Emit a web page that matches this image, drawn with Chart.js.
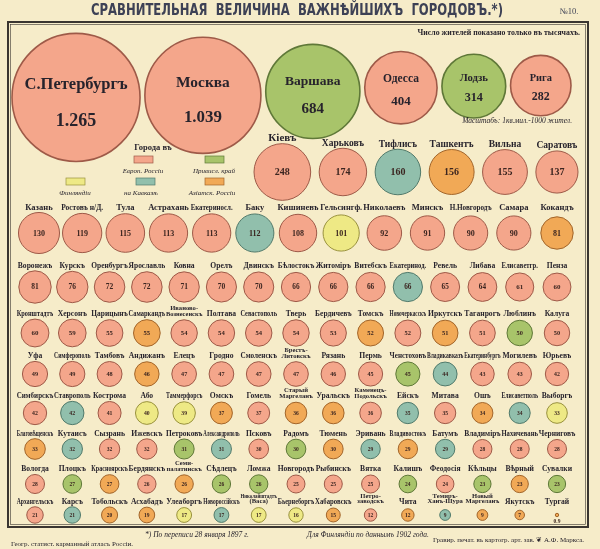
<!DOCTYPE html>
<html lang="ru">
<head>
<meta charset="UTF-8">
<title>Сравнительная величина важнѣйшихъ городовъ</title>
<script src="https://cdn.jsdelivr.net/npm/chart.js"></script>
<style>
  html, body { margin: 0; padding: 0; background: #f6ecc9; }
  canvas { display: block; }
</style>
</head>
<body>
<canvas id="cities" width="600" height="549"></canvas>
<script>
// число жителей въ тысячахъ (перепись 1897 г., для Финляндіи 1902 г.)
// E - Европ. Россія, P - Привисл. край, F - Финляндія, K - Кавказъ, A - Азіатск. Россія
const row1Names = ["С.Петербургъ", "Москва", "Варшава", "Одесса", "Лодзь", "Рига"];
const row1Values = [1265, 1039, 684, 404, 314, 282];
const row1Regions = ["E", "E", "P", "E", "P", "E"];

const row2Names = ["Кіевъ", "Харьковъ", "Тифлисъ", "Ташкентъ", "Вильна", "Саратовъ"];
const row2Values = [248, 174, 160, 156, 155, 137];
const row2Regions = ["E", "E", "K", "A", "E", "E"];

const row3Names = ["Казань", "Ростовъ н/Д.", "Тула", "Астрахань", "Екатериносл.", "Баку", "Кишиневъ",
  "Гельсингф.", "Николаевъ", "Минскъ", "Н.Новгородъ", "Самара", "Кокандъ"];
const row3Values = [130, 119, 115, 113, 113, 112, 108, 101, 92, 91, 90, 90, 81];
const row3Regions = ["E", "E", "E", "E", "E", "K", "E", "F", "E", "E", "E", "E", "A"];

const row4Names = ["Воронежъ", "Курскъ", "Оренбургъ", "Ярославль", "Ковна", "Орелъ", "Двинскъ", "Бѣлостокъ",
  "Житоміръ", "Витебскъ", "Екатеринод.", "Ревель", "Либава", "Елисаветгр.", "Пенза"];
const row4Values = [81, 76, 72, 72, 71, 70, 70, 66, 66, 66, 66, 65, 64, 61, 60];
const row4Regions = ["E", "E", "E", "E", "E", "E", "E", "E", "E", "E", "K", "E", "E", "E", "E"];

const row5Names = ["Кронштадтъ", "Херсонъ", "Царицынъ", "Самаркандъ", "Иваново-\nВознесенскъ", "Полтава",
  "Севастополь", "Тверь", "Бердичевъ", "Томскъ", "Новочеркасскъ", "Иркутскъ", "Таганрогъ", "Люблинъ", "Калуга"];
const row5Values = [60, 59, 55, 55, 54, 54, 54, 54, 53, 52, 52, 51, 51, 50, 50];
const row5Regions = ["E", "E", "E", "A", "E", "E", "E", "E", "E", "A", "E", "A", "E", "P", "E"];

const row6Names = ["Уфа", "Симферополь", "Тамбовъ", "Андижанъ", "Елецъ", "Гродно", "Смоленскъ", "Брестъ-\nЛитовскъ",
  "Рязань", "Пермь", "Ченстоховъ", "Владикавказъ", "Екатеринбургъ", "Могилевъ", "Юрьевъ"];
const row6Values = [49, 49, 48, 46, 47, 47, 47, 47, 46, 45, 45, 44, 43, 43, 42];
const row6Regions = ["E", "E", "E", "A", "E", "E", "E", "E", "E", "E", "P", "K", "E", "E", "E"];

const row7Names = ["Симбирскъ", "Ставрополь", "Кострома", "Або", "Таммерфорсъ", "Омскъ", "Гомель", "Старый\nМаргеланъ",
  "Уральскъ", "Каменецъ-\nПодольскъ", "Ейскъ", "Митава", "Ошъ", "Елисаветполь", "Выборгъ"];
const row7Values = [42, 42, 41, 40, 39, 37, 37, 36, 36, 36, 35, 35, 34, 34, 33];
const row7Regions = ["E", "K", "E", "F", "F", "A", "E", "A", "A", "E", "K", "E", "A", "K", "F"];

const row8Names = ["Благовѣщенскъ", "Кутаисъ", "Сызрань", "Ижевскъ", "Петроковъ", "Александрополь", "Псковъ",
  "Радомъ", "Тюмень", "Эривань", "Владивостокъ", "Батумъ", "Владиміръ", "Нахичевань", "Черниговъ"];
const row8Values = [33, 32, 32, 32, 31, 31, 30, 30, 30, 29, 29, 29, 28, 28, 28];
const row8Regions = ["A", "K", "E", "E", "P", "K", "E", "P", "A", "K", "A", "K", "E", "E", "E"];

const row9Names = ["Вологда", "Плоцкъ", "Красноярскъ", "Бердянскъ", "Семи-\nпалатинскъ", "Сѣдлецъ", "Ломжа",
  "Новгородъ", "Рыбинскъ", "Вятка", "Калишъ", "Феодосія", "Кѣльцы", "Вѣрный", "Сувалки"];
const row9Values = [28, 27, 27, 26, 26, 26, 26, 25, 25, 25, 24, 24, 23, 23, 23];
const row9Regions = ["E", "P", "A", "E", "A", "P", "P", "E", "E", "E", "P", "E", "P", "A", "P"];

const row10Names = ["Архангельскъ", "Карсъ", "Тобольскъ", "Асхабадъ", "Улеаборгъ", "Новороссійскъ",
  "Николайштадтъ\n(Васа)", "Бьернеборгъ", "Хабаровскъ", "Петро-\nзаводскъ", "Чита", "Темиръ-\nХанъ-Шура",
  "Новый\nМаргеланъ", "Якутскъ", "Тургай"];
const row10Values = [21, 21, 20, 19, 17, 17, 17, 16, 15, 12, 12, 9, 9, 7, 0.9];
const row10Regions = ["E", "K", "A", "A", "F", "K", "F", "F", "A", "E", "A", "K", "A", "A", "A"];

const regionKeys = ["E", "P", "F", "K", "A"];
const regionLegend = ["Европ. Россіи", "Привисл. край", "Финляндіи", "на Кавказѣ", "Азіатск. Россіи"];

// ---- styles / layout ----
const regionFill = { E: "#f4a68b", P: "#a8c46a", F: "#eee985", K: "#91bfac", A: "#f1a956" };
const regionLine = { E: "#9e5a48", P: "#5f7838", F: "#99923e", K: "#517a6b", A: "#a2652a" };
const INK = "#27232c";
const SERIF = "'Liberation Serif', 'DejaVu Serif', serif";

const K = 1.8; // px на корень изъ тысячи жителей
const radius = v => K * Math.sqrt(v);

const rows = [
  [row1Names, row1Values, row1Regions],
  [row2Names, row2Values, row2Regions],
  [row3Names, row3Values, row3Regions],
  [row4Names, row4Values, row4Regions],
  [row5Names, row5Values, row5Regions],
  [row6Names, row6Values, row6Regions],
  [row7Names, row7Values, row7Regions],
  [row8Names, row8Values, row8Regions],
  [row9Names, row9Values, row9Regions],
  [row10Names, row10Values, row10Regions]
];

// ряды 1-2 плотно уложены, остальные по сѣткѣ
const packed = [
  { left: 12, right: 571, cy: r => 75 + 0.35 * r },
  { left: 254, right: 578, cy: () => 172 }
];
const gridY = [233, 287, 333, 374, 413, 449, 484, 515];
const gridLeft = [39, 35, 35, 35, 35, 35, 35, 35];
const gridRight = 557;

const points = { E: [], P: [], F: [], K: [], A: [] };
rows.forEach(([names, values, regions], ri) => {
  const rs = values.map(radius);
  let xs, ys, labelY;
  if (ri < 2) {
    const p = packed[ri];
    const sum = rs.reduce((a, r) => a + 2 * r, 0);
    const gap = (p.right - p.left - sum) / (rs.length - 1);
    let cur = p.left;
    xs = rs.map(r => { const x = cur + r; cur += 2 * r + gap; return x; });
    ys = rs.map(r => p.cy(r));
  } else {
    const g = ri - 2;
    const step = (gridRight - gridLeft[g]) / (rs.length - 1);
    xs = rs.map((r, i) => gridLeft[g] + i * step);
    ys = rs.map(() => gridY[g]);
    labelY = gridY[g] - Math.max(...rs) - 6;
  }
  values.forEach((v, i) => {
    points[regions[i]].push({
      x: xs[i], y: ys[i], r: rs[i], name: names[i], value: v, row: ri,
      labelY: labelY !== undefined ? labelY : ys[i] - rs[i] - 6
    });
  });
});

const fmt = v => v >= 1000 ? Math.floor(v / 1000) + "." + String(v % 1000).padStart(3, "0") : String(v);

// ---- plugins ----
const paper = {
  id: "paper",
  beforeDraw(chart) {
    const ctx = chart.ctx;
    ctx.save();
    ctx.fillStyle = "#f6ecc9";
    ctx.fillRect(0, 0, chart.width, chart.height);
    ctx.strokeStyle = "#3a3530";
    ctx.lineWidth = 2;
    ctx.strokeRect(8, 22, 580, 505);
    ctx.lineWidth = 0.6;
    ctx.strokeRect(10.5, 24.5, 575, 500);
    ctx.restore();
  }
};

const cityLabels = {
  id: "cityLabels",
  afterDatasetsDraw(chart) {
    const ctx = chart.ctx;
    ctx.save();
    ctx.textAlign = "center";
    ctx.textBaseline = "middle";
    chart.data.datasets.forEach((ds, di) => {
      chart.getDatasetMeta(di).data.forEach((el, j) => {
        const d = ds.data[j];
        const r = el.options.radius;
        ctx.fillStyle = INK;
        if (d.row === 0) {
          const fs = 0.18 * r + 5;
          ctx.font = "bold " + fs.toFixed(1) + "px " + SERIF;
          ctx.fillText(d.name, el.x, el.y - 0.17 * r - 2, 1.7 * r);
          ctx.font = "bold " + (fs + 1.5).toFixed(1) + "px " + SERIF;
          ctx.fillText(fmt(d.value), el.x, el.y + 0.38 * r);
          return;
        }
        // названіе надъ кружкомъ
        const lines = d.name.split("\n");
        let nameSize = d.row === 1 ? (d.value > 200 ? 11 : 9.5) : d.row === 2 ? 8.5 : 7.6;
        if (lines.length > 1) nameSize = 6.6;
        const maxW = d.row === 1 ? 56 : d.row === 2 ? 42 : 36.5;
        ctx.font = "bold " + nameSize + "px " + SERIF;
        lines.forEach((ln, k) => {
          ctx.fillText(ln, el.x, d.labelY + 1 - (lines.length - 1 - k) * (nameSize * 0.9), maxW);
        });
        // число
        ctx.fillStyle = "#3b2520";
        if (r < 3) {
          ctx.font = "bold 5.5px " + SERIF;
          ctx.fillText(fmt(d.value), el.x, el.y + 6.5);
        } else {
          const ns = d.row === 1 ? 10 : d.row === 2 ? 8 : Math.min(7.5, Math.max(5.5, 0.5 * r));
          ctx.font = "bold " + ns + "px " + SERIF;
          ctx.fillText(fmt(d.value), el.x, el.y + 0.5);
        }
      });
    });
    ctx.restore();
  }
};

const notes = {
  id: "notes",
  afterDraw(chart) {
    const ctx = chart.ctx;
    ctx.save();
    ctx.textBaseline = "middle";
    // заголовокъ
    ctx.fillStyle = "#3d4155";
    ctx.textAlign = "center";
    ctx.font = "bold 15px 'DejaVu Sans', sans-serif";
    ctx.fillText("СРАВНИТЕЛЬНАЯ  ВЕЛИЧИНА  ВАЖНѢЙШИХЪ  ГОРОДОВЪ.*)", 297, 11, 412);
    ctx.font = "8.5px " + SERIF;
    ctx.fillText("№10.", 569, 12);

    ctx.fillStyle = INK;
    ctx.textAlign = "right";
    ctx.font = "bold 7.8px " + SERIF;
    ctx.fillText("Число жителей показано только въ тысячахъ.", 580, 33, 232);
    ctx.font = "italic 7.5px " + SERIF;
    ctx.fillText("Масштабъ: 1кв.мил.-1000 жител.", 572, 121, 140);

    // легенда
    ctx.textAlign = "center";
    ctx.font = "bold 8.5px " + SERIF;
    ctx.fillText("Города въ", 153, 148);
    const sw = [[134, 156], [205, 156], [66, 178], [136, 178], [205, 178]];
    const lx = [143, 214, 75, 141, 212];
    regionKeys.forEach((k, i) => {
      ctx.fillStyle = regionFill[k];
      ctx.fillRect(sw[i][0], sw[i][1], 19, 7);
      ctx.strokeStyle = regionLine[k];
      ctx.lineWidth = 0.7;
      ctx.strokeRect(sw[i][0], sw[i][1], 19, 7);
      ctx.fillStyle = INK;
      ctx.font = "italic 7px " + SERIF;
      ctx.fillText(regionLegend[i], lx[i], sw[i][1] + 15, 62);
    });

    // подписи внизу
    ctx.font = "italic 7.5px " + SERIF;
    ctx.fillText("*) По переписи 28 января 1897 г.", 197, 535, 142);
    ctx.fillText("Для Финляндіи по даннымъ 1902 года.", 368, 535, 168);
    ctx.textAlign = "left";
    ctx.font = "7px " + SERIF;
    ctx.fillText("Геогр. статист. карманный атласъ Россіи.", 11, 544, 145);
    ctx.textAlign = "right";
    ctx.fillText("Гравир. печат. въ картогр. арт. зав. ❦ А.Ф. Маркса.", 584, 540, 175);
    ctx.restore();
  }
};

new Chart(document.getElementById("cities"), {
  type: "bubble",
  data: {
    datasets: regionKeys.map((k, i) => ({
      label: regionLegend[i],
      data: points[k],
      backgroundColor: regionFill[k],
      borderColor: regionLine[k],
      borderWidth: ctx => (ctx.raw && ctx.raw.row === 0 ? 1.6 : 1),
      clip: false
    }))
  },
  options: {
    responsive: false,
    animation: false,
    events: [],
    layout: { padding: 0, autoPadding: false },
    plugins: { legend: { display: false }, tooltip: { enabled: false } },
    scales: {
      x: { type: "linear", min: 0, max: 600, display: false },
      y: { type: "linear", min: 0, max: 549, reverse: true, display: false }
    }
  },
  plugins: [paper, cityLabels, notes]
});
</script>
</body>
</html>
